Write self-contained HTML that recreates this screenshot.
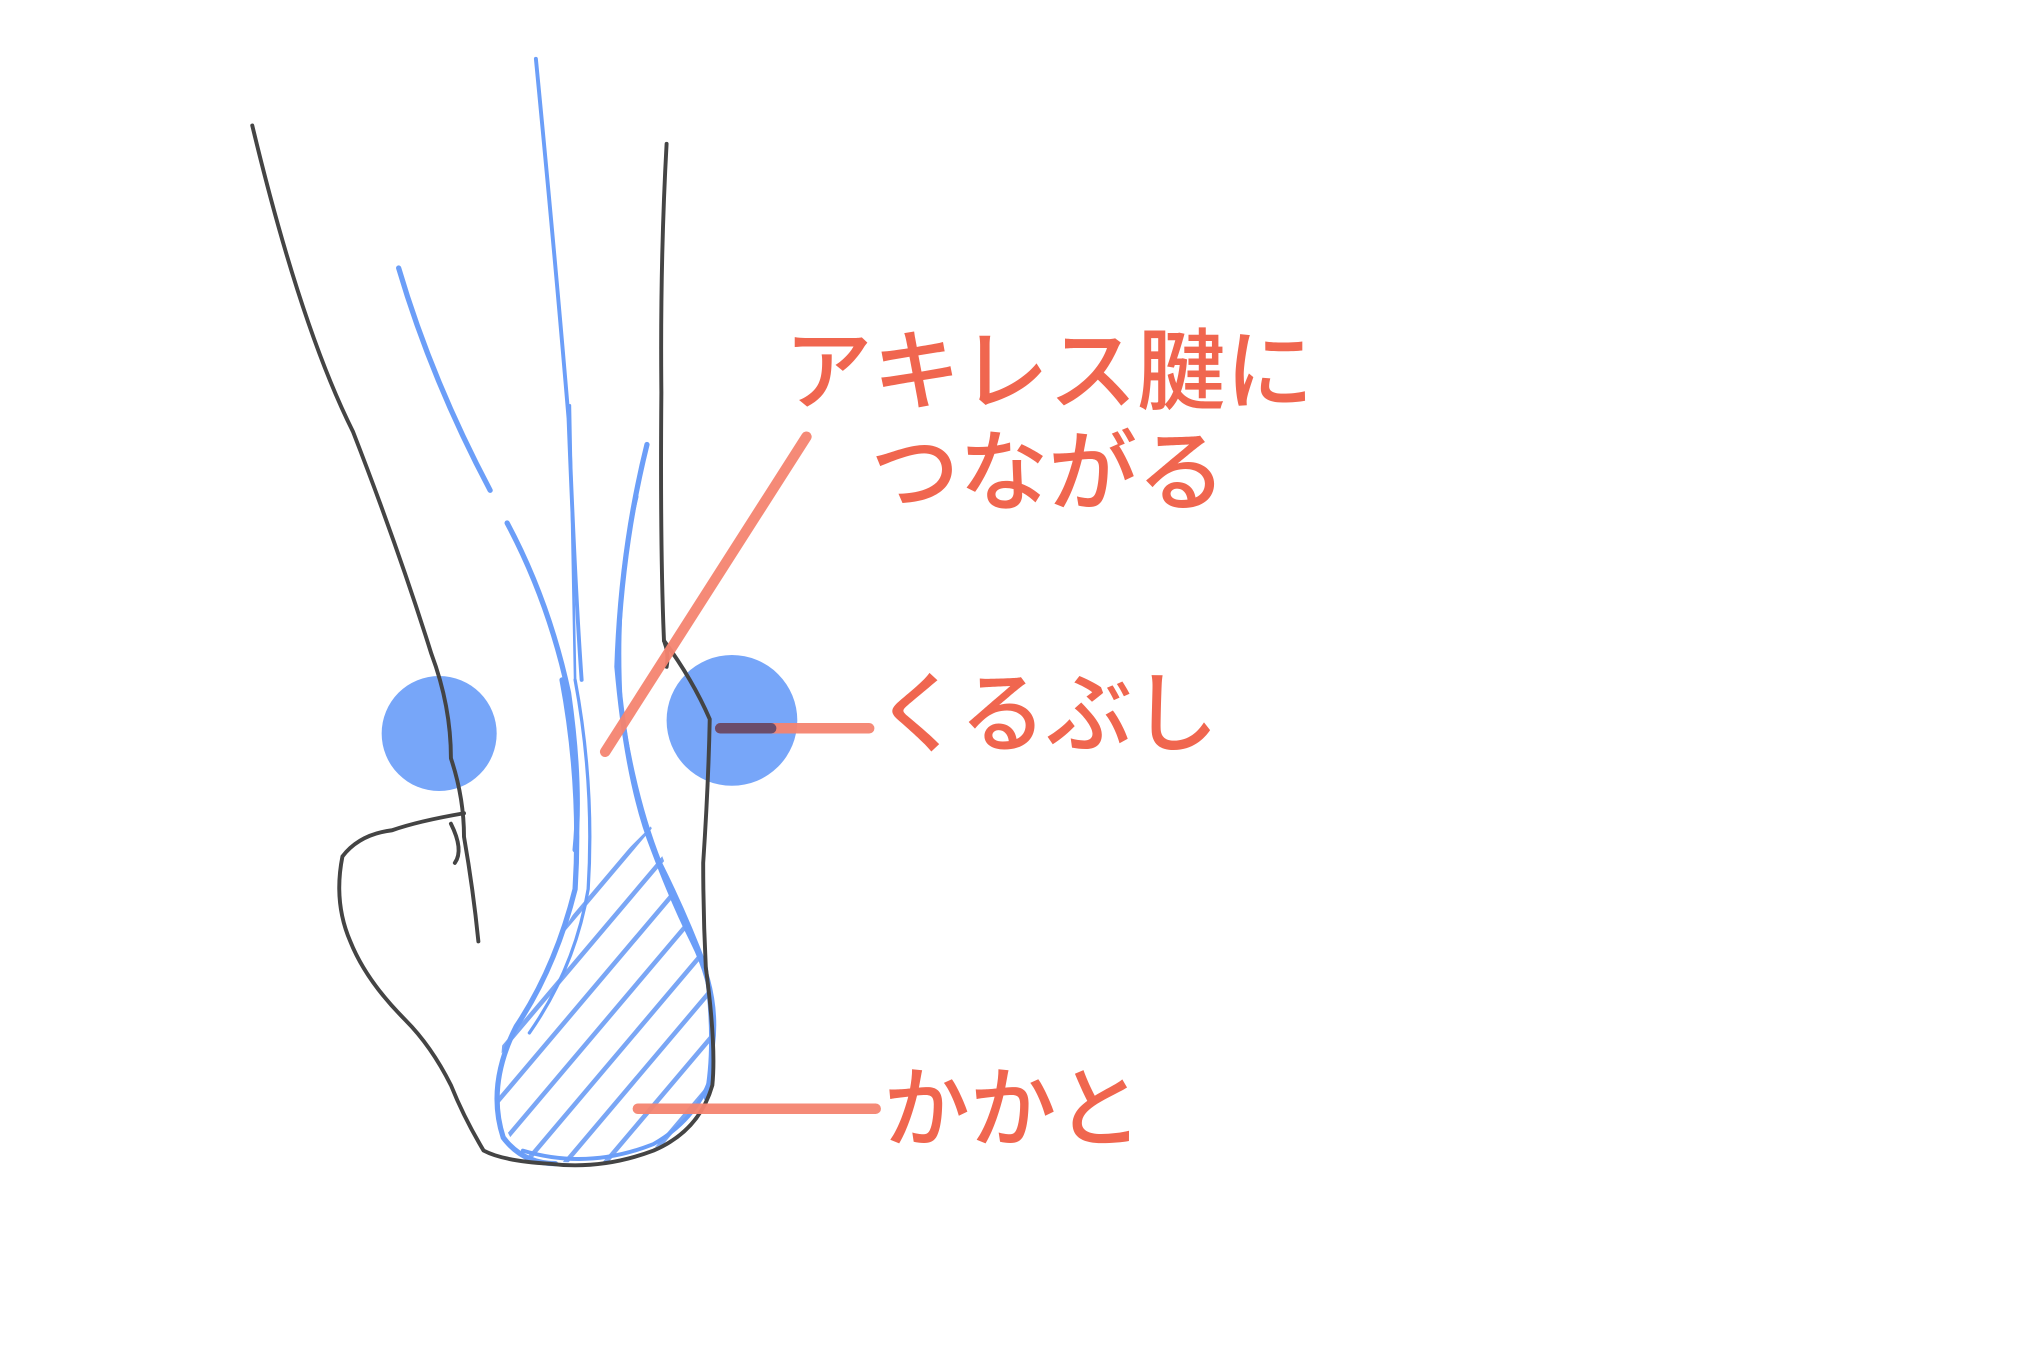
<!DOCTYPE html>
<html><head><meta charset="utf-8"><style>html,body{margin:0;padding:0;background:#fff}svg{display:block}</style></head><body>
<svg width="2039" height="1365" viewBox="0 0 1560 1044" preserveAspectRatio="none" xmlns="http://www.w3.org/2000/svg">
<rect width="1560" height="1044" fill="#fff"/>
<defs><clipPath id="h"><path d="M498 632 L520 690 L540 740 L546 830 L520 870 L470 890 L400 888 L380 850 L385 790 L420 730 L450 680 Z"/></clipPath></defs>
<g clip-path="url(#h)" stroke="#7aa6f5" stroke-width="3.5">
<path d="M200 840 L420 580 M222 850 L442 590 M244 860 L464 600 M266 870 L486 610 M288 880 L508 620 M310 890 L530 630 M332 900 L552 640 M354 910 L574 650 M376 920 L596 660 M398 930 L618 670 M420 940 L640 680 M442 950 L662 690 M464 960 L684 700 M486 970 L706 710"/>
</g>
<circle cx="336" cy="561" r="44" fill="#6b9ef8" opacity="0.92"/>
<circle cx="560" cy="551" r="50" fill="#6b9ef8" opacity="0.92"/>
<g fill="none" stroke="#6b9ef8" stroke-linecap="round">
<path d="M410 45 Q425 200 435 320 Q440 450 445 520" stroke-width="3"/>
<path d="M305 205 Q330 290 375 375" stroke-width="4"/>
<path d="M388 400 Q420 460 435 530 Q445 600 440 650" stroke-width="4"/>
<path d="M436 310 Q438 420 440 520" stroke-width="2"/>
<path d="M495 340 Q475 420 472 510 Q480 600 500 650 Q515 690 530 720 Q550 760 545 800" stroke-width="4"/>
<path d="M487 380 Q470 450 475 540 Q485 610 505 660 Q525 700 540 740 Q548 800 540 840" stroke-width="3"/>
<path d="M430 520 Q445 600 440 680 Q425 740 395 785 Q372 830 385 870 Q400 890 425 890" stroke-width="4"/>
<path d="M440 520 Q455 600 450 680 Q440 740 405 790" stroke-width="2.5"/>
<path d="M400 880 Q450 895 500 875 Q535 855 545 820" stroke-width="3"/>
</g>
<g fill="none" stroke="#444" stroke-linecap="round" stroke-width="3">
<path d="M193 96 Q230 250 270 330 Q305 420 330 500 Q345 540 345 580 Q355 610 355 640 Q362 680 366 720"/>
<path d="M345 630 Q355 650 348 660"/>
<path d="M510 110 Q505 200 506 300 Q505 420 508 490 Q530 520 543 550 Q542 600 538 660 Q538 700 540 740 Q548 800 545 830 Q535 865 500 880 Q460 895 420 890 Q385 888 370 880 Q355 855 345 830 Q330 800 310 780 Q280 750 268 720 Q255 690 262 655 Q275 638 300 635 Q320 628 355 622"/>
<path d="M508 490 Q512 500 510 510"/>
</g>
<g stroke="#f58470" stroke-width="8" stroke-linecap="round" opacity="0.95">
<line x1="617" y1="334" x2="463" y2="575"/>
<line x1="551" y1="557" x2="665" y2="557"/>
<line x1="488" y1="848" x2="670" y2="848"/>
</g>
<line x1="551" y1="557" x2="590" y2="557" stroke="#6b4c6a" stroke-width="8" stroke-linecap="round"/>
<g fill="#f0664f" font-family="'Noto Sans CJK JP',sans-serif" font-size="68" font-weight="500">
<text x="600" y="308" textLength="405" lengthAdjust="spacingAndGlyphs">アキレス腱に</text>
<text x="666" y="385" textLength="272" lengthAdjust="spacingAndGlyphs">つながる</text>
<text x="670" y="570" textLength="262" lengthAdjust="spacingAndGlyphs">くるぶし</text>
<text x="676" y="872" textLength="198" lengthAdjust="spacingAndGlyphs">かかと</text>
</g>
</svg>
</body></html>
